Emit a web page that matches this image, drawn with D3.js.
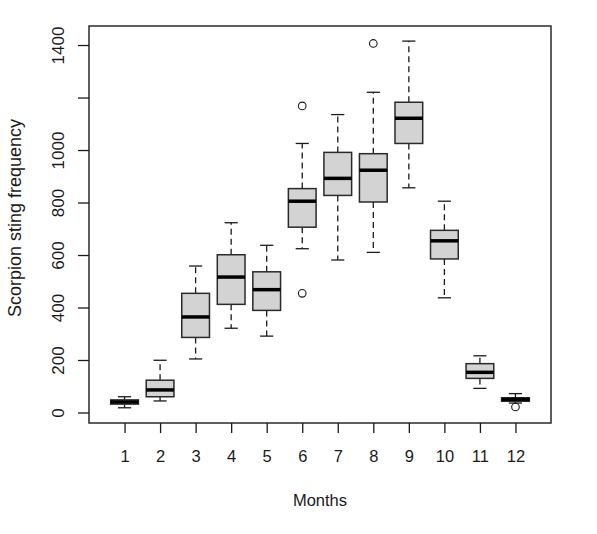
<!DOCTYPE html>
<html><head><meta charset="utf-8">
<script src="https://cdn.jsdelivr.net/npm/d3@7"></script>
<style>html,body{margin:0;padding:0;background:#fff;}svg{display:block;}</style>
</head><body>
<svg id="chart" width="597" height="534"></svg>
<script>
const months = [1,2,3,4,5,6,7,8,9,10,11,12];
const whiskerLow  = [18, 44, 204, 321, 291, 624, 581, 610, 856, 437, 92, 36];
const q1          = [32, 60, 286, 412, 389, 706, 827, 802, 1025, 585, 130, 43];
const medians     = [40, 86, 364, 516, 468, 805, 892, 923, 1121, 654, 153, 50];
const q3          = [48, 123, 454, 601, 536, 853, 991, 986, 1182, 694, 186, 56];
const whiskerHigh = [60, 199, 558, 723, 637, 1025, 1135, 1220, 1415, 805, 216, 72];
const outlierMonths = [6, 6, 8, 12];
const outlierValues = [1168, 454, 1406, 21];
const yTicks = [0, 200, 400, 600, 800, 1000, 1200, 1400];
const yTickLabels = ["0", "200", "400", "600", "800", "1000", "", "1400"];
const xLabel = "Months";
const yLabel = "Scorpion sting frequency";

const L = 89, R = 551, T = 26, B = 423;
const svg = d3.select("#chart");
const x = d3.scaleLinear().domain([0, 13]).range([L, R]);
const y = d3.scaleLinear().domain([-40, 1472.5]).range([B, T]);
const boxW = x(0.78) - x(0);
const capW = x(0.37) - x(0);
const font = "'Liberation Sans', Arial, sans-serif";
const ink = "#1a1a1a";

const data = months.map((m, i) => ({m, lo: whiskerLow[i], q1: q1[i], med: medians[i], q3: q3[i], hi: whiskerHigh[i]}));
const g = svg.append("g");
const box = g.selectAll("g.box").data(data).join("g").attr("class", "box");
// whiskers
box.append("line").attr("x1", d => x(d.m)).attr("x2", d => x(d.m))
  .attr("y1", d => y(d.q3)).attr("y2", d => y(d.hi))
  .attr("stroke", ink).attr("stroke-width", 1.3).attr("stroke-dasharray", "6,4");
box.append("line").attr("x1", d => x(d.m)).attr("x2", d => x(d.m))
  .attr("y1", d => y(d.q1)).attr("y2", d => y(d.lo))
  .attr("stroke", ink).attr("stroke-width", 1.3).attr("stroke-dasharray", "6,4");
// caps
box.append("line").attr("x1", d => x(d.m) - capW/2).attr("x2", d => x(d.m) + capW/2)
  .attr("y1", d => y(d.hi)).attr("y2", d => y(d.hi)).attr("stroke", ink).attr("stroke-width", 1.3);
box.append("line").attr("x1", d => x(d.m) - capW/2).attr("x2", d => x(d.m) + capW/2)
  .attr("y1", d => y(d.lo)).attr("y2", d => y(d.lo)).attr("stroke", ink).attr("stroke-width", 1.3);
// box
box.append("rect").attr("x", d => x(d.m) - boxW/2).attr("width", boxW)
  .attr("y", d => y(d.q3)).attr("height", d => y(d.q1) - y(d.q3))
  .attr("fill", "#d3d3d3").attr("stroke", "#2a2a2a").attr("stroke-width", 1.5);
// median
box.append("line").attr("x1", d => x(d.m) - boxW/2).attr("x2", d => x(d.m) + boxW/2)
  .attr("y1", d => y(d.med)).attr("y2", d => y(d.med)).attr("stroke", "#000").attr("stroke-width", 3.5);
// outliers
g.selectAll("circle.out").data(outlierMonths.map((m, i) => ({m, v: outlierValues[i]})))
  .join("circle").attr("class", "out").attr("cx", d => x(d.m)).attr("cy", d => y(d.v)).attr("r", 3.8)
  .attr("fill", "none").attr("stroke", ink).attr("stroke-width", 1.1);

// frame
svg.append("rect").attr("x", L).attr("y", T).attr("width", R - L).attr("height", B - T)
  .attr("fill", "none").attr("stroke", "#2a2a2a").attr("stroke-width", 1.5);

// x axis
const xAxis = d3.axisBottom(x).tickValues(months).tickSize(10).tickPadding(17).tickSizeOuter(0);
const xa = svg.append("g").attr("transform", `translate(0,${B})`).call(xAxis);
xa.select(".domain").remove();
xa.selectAll(".tick line").attr("stroke", ink).attr("stroke-width", 1.3);
xa.selectAll(".tick text").attr("font-family", font).attr("font-size", 16.5).attr("fill", ink);

// y axis
const yAxis = d3.axisLeft(y).tickValues(yTicks).tickFormat((d, i) => yTickLabels[i]).tickSize(11).tickSizeOuter(0);
const ya = svg.append("g").attr("transform", `translate(${L},0)`).call(yAxis);
ya.select(".domain").remove();
ya.selectAll(".tick line").attr("stroke", ink).attr("stroke-width", 1.3);
ya.selectAll(".tick text").attr("font-family", font).attr("font-size", 17).attr("fill", ink)
  .attr("x", 0).attr("dy", 0).attr("text-anchor", "middle")
  .attr("transform", "translate(-25,0) rotate(-90)");

// labels
svg.append("text").attr("x", x(6.5)).attr("y", 506).attr("text-anchor", "middle")
  .attr("font-family", font).attr("font-size", 16.5).attr("fill", ink).text(xLabel);
svg.append("text").attr("transform", "translate(21,218) rotate(-90)").attr("text-anchor", "middle")
  .attr("font-family", font).attr("font-size", 18).attr("fill", ink).text(yLabel);
</script>
</body></html>
